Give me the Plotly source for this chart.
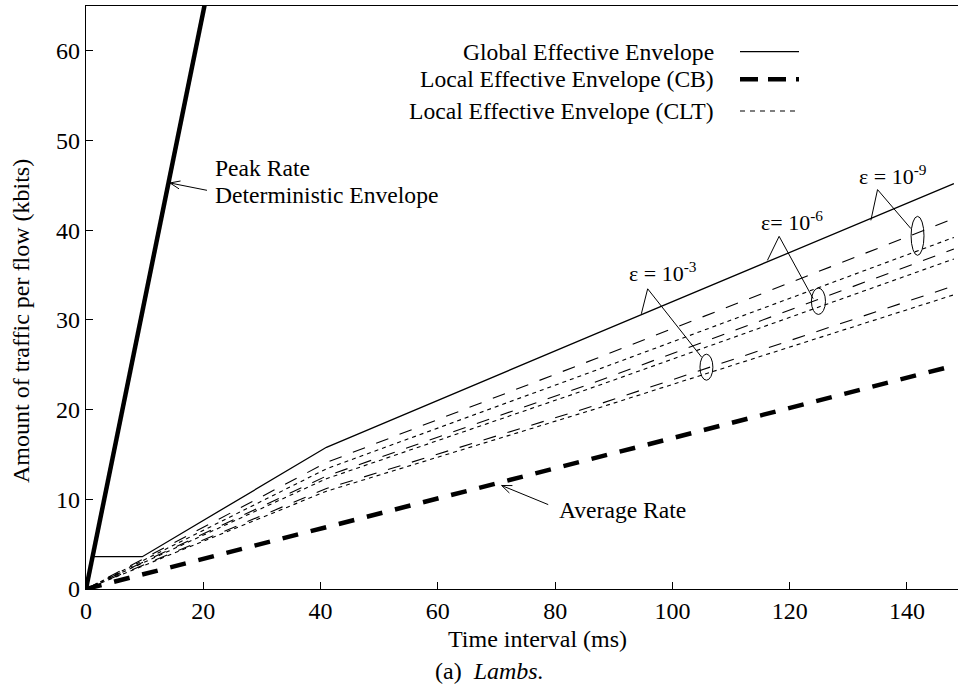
import math
import plotly.graph_objects as go

# ---------------- data ----------------
peak_x = [0, 21]
peak_y = [0, 67.6]

avg_x = [0, 148]
avg_y = [0, 24.9]

global_x = [0, 1.12, 9.6, 41, 87.1, 148]
global_y = [0, 3.6, 3.6, 15.8, 28.5, 45.2]

env_x = [0, 41, 87, 148]
cb_1e9 = [0, 14.1, 25.7, 41.3]
clt_1e9 = [0, 13.4, 24.4, 39.2]
cb_1e6 = [0, 12.6, 23.1, 37.9]
clt_1e6 = [0, 12.3, 22.6, 36.8]
cb_1e3 = [0, 11.2, 20.5, 33.8]
clt_1e3 = [0, 10.9, 20.1, 32.8]

x_ticks = [0, 20, 40, 60, 80, 100, 120, 140]
y_ticks = [0, 10, 20, 30, 40, 50, 60]

legend_labels = ["Global Effective Envelope",
                 "Local Effective Envelope (CB)",
                 "Local Effective Envelope (CLT)"]

# ---------------- styling / layout constants ----------------
FONT = "Liberation Serif"
W, H = 958, 696
ML, MR, MT, MB = 86, 0, 6, 107
X_RANGE = [0, 148.7]
Y_RANGE = [0, 65]

fig = go.Figure()

def add_line(x, y, width, dash="solid"):
    fig.add_trace(go.Scatter(x=x, y=y, mode="lines", showlegend=False,
                             hoverinfo="skip",
                             line=dict(color="black", width=width, dash=dash)))

add_line(peak_x, peak_y, 4.5)
add_line(avg_x, avg_y, 4.5, "16px,13px")
for ys in (cb_1e9, cb_1e6, cb_1e3):
    add_line(env_x, ys, 1.1, "13px,12px")
for ys in (clt_1e9, clt_1e6, clt_1e3):
    add_line(env_x, ys, 1.1, "4px,4px")
add_line(global_x, global_y, 1.3)

# ---------------- helpers for decorations ----------------
PW = W - ML - MR
PH = H - MT - MB
SX = PW / (X_RANGE[1] - X_RANGE[0])
SY = PH / (Y_RANGE[1] - Y_RANGE[0])

def paper_x(px):
    return (px - ML) / PW

def paper_y(py):
    return (H - MB - py) / PH

shapes = []
annotations = []

# legend (text on the left, sample on the right)
leg_rows = [51.7, 79.3, 111.0]
leg_styles = [dict(width=1.3, dash="solid"),
              dict(width=4.5, dash="18px,10px"),
              dict(width=1.1, dash="5px,5px")]
for lbl, row, st in zip(legend_labels, leg_rows, leg_styles):
    annotations.append(dict(x=paper_x(716), y=paper_y(row), xref="paper", yref="paper",
                            text=lbl, showarrow=False, xanchor="right", yanchor="middle",
                            font=dict(family=FONT, size=23.6, color="black")))
    shapes.append(dict(type="line", xref="paper", yref="paper",
                       x0=paper_x(740), x1=paper_x(799), y0=paper_y(row), y1=paper_y(row),
                       line=dict(color="black", width=st["width"], dash=st["dash"])))

# text annotations in data coordinates
def txt(x, y, s, size=23.6, xanchor="left", yanchor="middle", yshift=0):
    annotations.append(dict(x=x, y=y, xref="x", yref="y", text=s, showarrow=False,
                            xanchor=xanchor, yanchor=yanchor, yshift=yshift,
                            font=dict(family=FONT, size=size, color="black")))

def arrow(xh, yh, xt, yt, head_len=10, head_half=4):
    """Thin arrow from tail (xt, yt) to head (xh, yh) with an open V head."""
    dx, dy = (xt - xh) * SX, (yt - yh) * SY
    L = math.hypot(dx, dy)
    ux, uy = dx / L, dy / L
    px_, py_ = -uy, ux
    p1 = (xh + (head_len * ux + head_half * px_) / SX, yh + (head_len * uy + head_half * py_) / SY)
    p2 = (xh + (head_len * ux - head_half * px_) / SX, yh + (head_len * uy - head_half * py_) / SY)
    shapes.append(dict(type="line", xref="x", yref="y", x0=xt, y0=yt, x1=xh, y1=yh,
                       line=dict(color="black", width=1)))
    shapes.append(dict(type="path", xref="x", yref="y",
                       path="M {} {} L {} {} L {} {}".format(p1[0], p1[1], xh, yh, p2[0], p2[1]),
                       line=dict(color="black", width=1)))

txt(21.65, 46.9, "Peak Rate")
txt(21.65, 43.9, "Deterministic Envelope")
arrow(14.32, 45.27, 20.63, 44.45)

txt(80.26, 8.85, "Average Rate")
arrow(70.88, 11.54, 78.82, 9.41)

# epsilon labels: (left x, baseline y, text)
eps_labels = [(92.24, 34.33, "ε = 10<sup>-3</sup>"),
              (114.75, 40.07, "ε= 10<sup>-6</sup>"),
              (131.5, 45.2, "ε = 10<sup>-9</sup>")]
for ex, ey, s in eps_labels:
    txt(ex, ey, s, size=22, yanchor="bottom", yshift=-7)

# leader paths (left base -> apex -> ellipse) and ellipses
leaders = [[(94.7, 30.68), (95.78, 33.47), (104.98, 25.85)],
           [(116.2, 36.64), (118.2, 39.32), (124.0, 32.37)],
           [(133.84, 41.1), (134.98, 44.53), (140.67, 40.18)]]
ellipses = [(104.7, 106.9, 23.28, 26.18),
            (123.7, 126.1, 30.61, 33.55),
            (140.7, 142.9, 37.2, 41.55)]
for pts in leaders:
    path = "M {} {} L {} {} L {} {}".format(*[v for p in pts for v in p])
    shapes.append(dict(type="path", xref="x", yref="y", path=path,
                       line=dict(color="black", width=1)))
for x0, x1, y0, y1 in ellipses:
    shapes.append(dict(type="circle", xref="x", yref="y", x0=x0, x1=x1, y0=y0, y1=y1,
                       line=dict(color="black", width=1)))

# axis titles and caption
annotations.append(dict(x=paper_x(537), y=paper_y(639), xref="paper", yref="paper",
                        text="Time interval (ms)", showarrow=False,
                        xanchor="center", yanchor="middle",
                        font=dict(family=FONT, size=24, color="black")))
annotations.append(dict(x=paper_x(21), y=paper_y(321), xref="paper", yref="paper",
                        text="Amount of traffic per flow (kbits)", showarrow=False,
                        textangle=-90, xanchor="center", yanchor="middle",
                        font=dict(family=FONT, size=24, color="black")))
annotations.append(dict(x=paper_x(489), y=paper_y(671), xref="paper", yref="paper",
                        text="(a)  <i>Lambs.</i>", showarrow=False,
                        xanchor="center", yanchor="middle",
                        font=dict(family=FONT, size=24, color="black")))

axis_common = dict(showgrid=False, zeroline=False, showline=True, linecolor="black",
                   linewidth=1.3, ticks="inside", ticklen=7, tickwidth=1.2,
                   tickcolor="black",
                   tickfont=dict(family=FONT, size=24, color="black"))

fig.update_layout(
    width=W, height=H,
    margin=dict(l=ML, r=MR, t=MT, b=MB, pad=0),
    paper_bgcolor="white", plot_bgcolor="white",
    showlegend=False,
    xaxis=dict(range=X_RANGE, tickvals=x_ticks, mirror=True, **axis_common),
    yaxis=dict(range=Y_RANGE, tickvals=y_ticks, mirror=False, **axis_common),
    shapes=shapes, annotations=annotations,
)

fig.write_html("out.html")
